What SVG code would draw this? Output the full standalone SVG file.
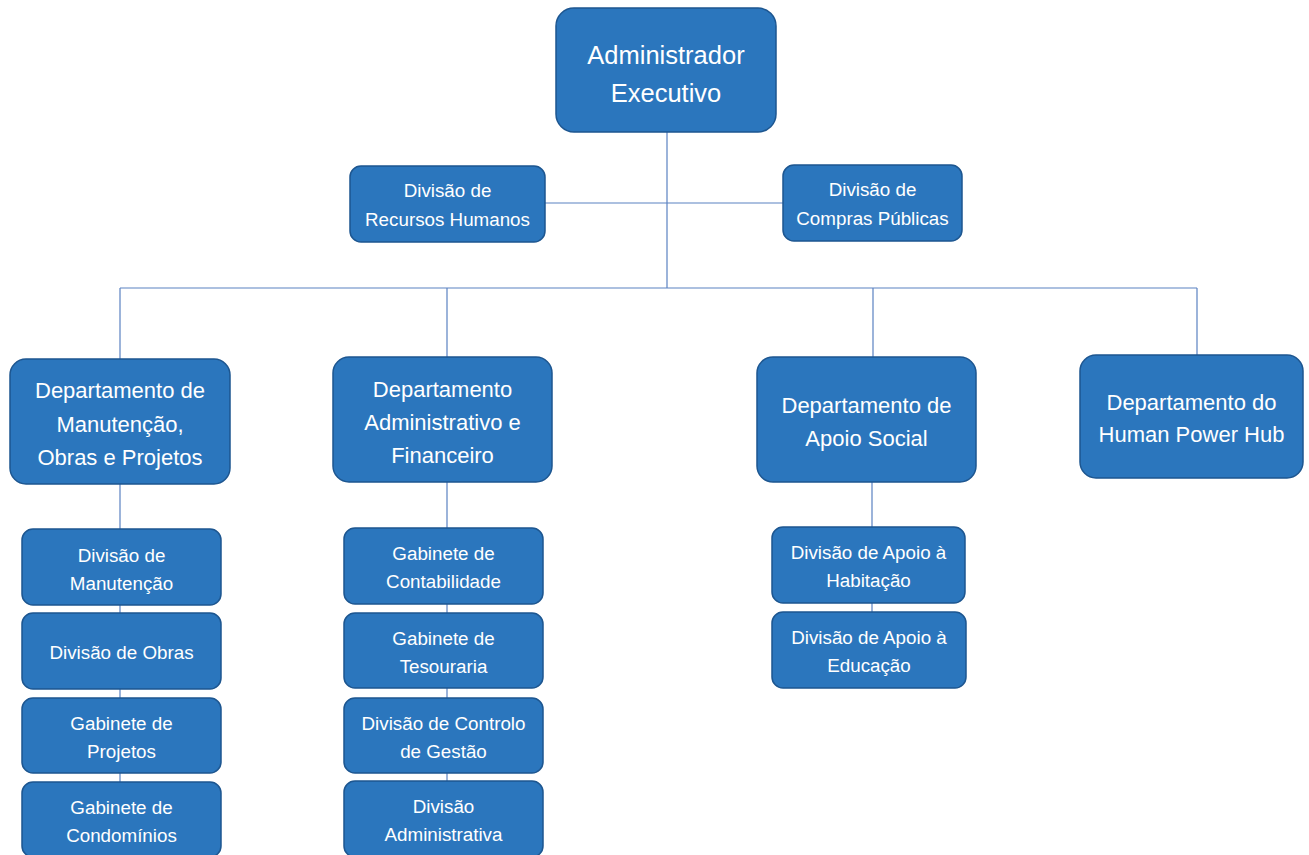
<svg xmlns="http://www.w3.org/2000/svg" width="1309" height="855" viewBox="0 0 1309 855">
<style>
.box{fill:#2b76bd;stroke:#1d5690;stroke-width:1.5}
.ln{stroke:#5b82c2;stroke-width:1.2;fill:none}
text{font-family:"Liberation Sans",Arial,sans-serif;fill:#ffffff;text-anchor:middle}
.t1{font-size:25.5px}
.t2{font-size:22px}
.t3{font-size:18.8px}
</style>
<rect width="1309" height="855" fill="#ffffff"/>
<g id="connectors">
<path class="ln" d="M667 132V288M545 203H783M120 288H1197M120 288V359M447 288V357M873 288V357M1197 288V355M120 484V782M447 482V781M872 482V612"/>
</g>
<g id="n-admin"><rect class="box" x="556" y="8" width="220" height="124" rx="18"/><text class="t1" x="666" y="64">Administrador</text><text class="t1" x="666" y="102">Executivo</text></g>
<g id="n-rh"><rect class="box" x="350" y="166" width="195" height="76" rx="11"/><text class="t3" x="447.5" y="197">Divisão de</text><text class="t3" x="447.5" y="226">Recursos Humanos</text></g>
<g id="n-compras"><rect class="box" x="783" y="165" width="179" height="76" rx="11"/><text class="t3" x="872.5" y="196">Divisão de</text><text class="t3" x="872.5" y="225">Compras Públicas</text></g>
<g id="n-dmop"><rect class="box" x="10" y="359" width="220" height="125" rx="16"/><text class="t2" x="120" y="398">Departamento de</text><text class="t2" x="120" y="432">Manutenção,</text><text class="t2" x="120" y="465">Obras e Projetos</text></g>
<g id="n-daf"><rect class="box" x="333" y="357" width="219" height="125" rx="16"/><text class="t2" x="442.5" y="397">Departamento</text><text class="t2" x="442.5" y="430">Administrativo e</text><text class="t2" x="442.5" y="463">Financeiro</text></g>
<g id="n-das"><rect class="box" x="757" y="357" width="219" height="125" rx="16"/><text class="t2" x="866.5" y="413">Departamento de</text><text class="t2" x="866.5" y="446">Apoio Social</text></g>
<g id="n-hph"><rect class="box" x="1080" y="355" width="223" height="123" rx="16"/><text class="t2" x="1191.5" y="410">Departamento do</text><text class="t2" x="1191.5" y="442">Human Power Hub</text></g>
<g id="n-dman"><rect class="box" x="22" y="529" width="199" height="76" rx="11"/><text class="t3" x="121.5" y="562">Divisão de</text><text class="t3" x="121.5" y="590">Manutenção</text></g>
<g id="n-dobras"><rect class="box" x="22" y="613" width="199" height="76" rx="11"/><text class="t3" x="121.5" y="659">Divisão de Obras</text></g>
<g id="n-gproj"><rect class="box" x="22" y="698" width="199" height="75" rx="11"/><text class="t3" x="121.5" y="730">Gabinete de</text><text class="t3" x="121.5" y="758">Projetos</text></g>
<g id="n-gcond"><rect class="box" x="22" y="782" width="199" height="75" rx="11"/><text class="t3" x="121.5" y="814">Gabinete de</text><text class="t3" x="121.5" y="842">Condomínios</text></g>
<g id="n-gcont"><rect class="box" x="344" y="528" width="199" height="76" rx="11"/><text class="t3" x="443.5" y="560">Gabinete de</text><text class="t3" x="443.5" y="588">Contabilidade</text></g>
<g id="n-gtes"><rect class="box" x="344" y="613" width="199" height="75" rx="11"/><text class="t3" x="443.5" y="645">Gabinete de</text><text class="t3" x="443.5" y="673">Tesouraria</text></g>
<g id="n-dcg"><rect class="box" x="344" y="698" width="199" height="75" rx="11"/><text class="t3" x="443.5" y="730">Divisão de Controlo</text><text class="t3" x="443.5" y="758">de Gestão</text></g>
<g id="n-dadm"><rect class="box" x="344" y="781" width="199" height="76" rx="11"/><text class="t3" x="443.5" y="813">Divisão</text><text class="t3" x="443.5" y="841">Administrativa</text></g>
<g id="n-dah"><rect class="box" x="772" y="527" width="193" height="76" rx="11"/><text class="t3" x="868.5" y="559">Divisão de Apoio à</text><text class="t3" x="868.5" y="587">Habitação</text></g>
<g id="n-dae"><rect class="box" x="772" y="612" width="194" height="76" rx="11"/><text class="t3" x="869" y="644">Divisão de Apoio à</text><text class="t3" x="869" y="672">Educação</text></g>
</svg>
